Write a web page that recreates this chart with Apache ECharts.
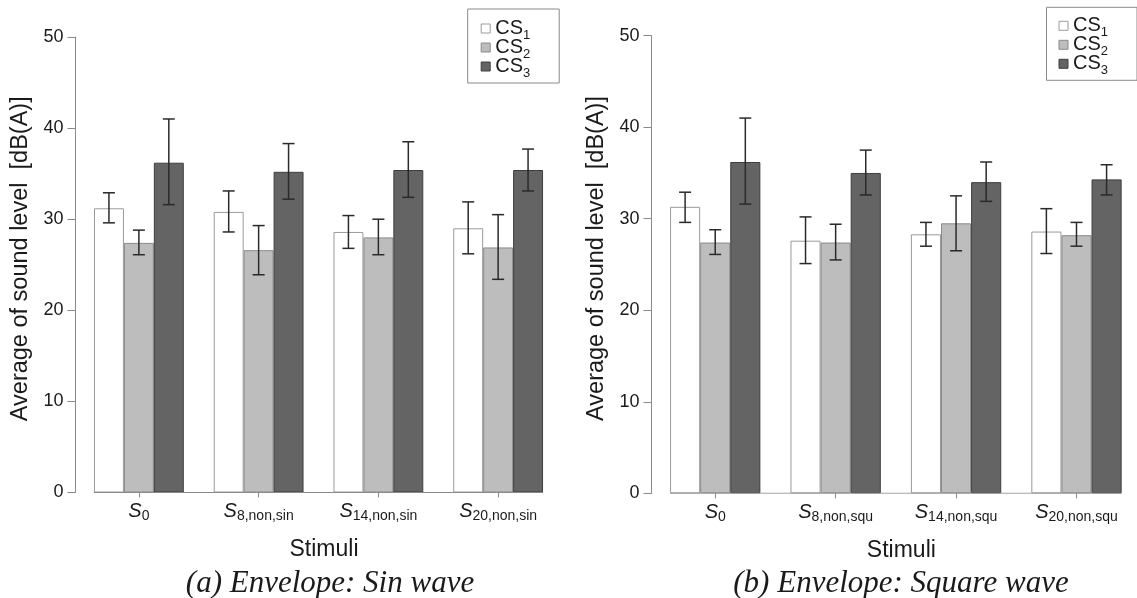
<!DOCTYPE html>
<html>
<head>
<meta charset="utf-8">
<script src="https://cdn.jsdelivr.net/npm/echarts@6/dist/echarts.min.js"></script>
<style>html,body{margin:0;padding:0;background:#fff}#c{width:1137px;height:598px}</style>
</head>
<body>
<div id="c"></div>
<script>
// ---- data ----
const categoriesSin = ['S_0', 'S_8,non,sin', 'S_14,non,sin', 'S_20,non,sin'];
const categoriesSqu = ['S_0', 'S_8,non,squ', 'S_14,non,squ', 'S_20,non,squ'];
const seriesNames = ['CS_1', 'CS_2', 'CS_3'];
const captionSin = '(a) Envelope: Sin wave';
const captionSqu = '(b) Envelope: Square wave';
const yAxisTitle = 'Average of sound level  [dB(A)]';
const xAxisTitle = 'Stimuli';

// Sin wave envelope
const sinCS1 = [31.2, 30.8, 28.6, 29.0];
const sinCS1Low = [29.6, 28.6, 26.8, 26.2];
const sinCS1High = [32.9, 33.1, 30.4, 31.9];
const sinCS2 = [27.4, 26.6, 28.0, 26.9];
const sinCS2Low = [26.1, 23.9, 26.1, 23.4];
const sinCS2High = [28.8, 29.3, 30.0, 30.5];
const sinCS3 = [36.2, 35.2, 35.4, 35.4];
const sinCS3Low = [31.6, 32.2, 32.4, 33.1];
const sinCS3High = [41.0, 38.3, 38.5, 37.7];

// Square wave envelope
const squCS1 = [31.3, 27.6, 28.3, 28.6];
const squCS1Low = [29.6, 25.1, 27.0, 26.2];
const squCS1High = [32.9, 30.2, 29.6, 31.1];
const squCS2 = [27.4, 27.4, 29.5, 28.2];
const squCS2Low = [26.1, 25.5, 26.5, 27.0];
const squCS2High = [28.8, 29.4, 32.5, 29.6];
const squCS3 = [36.2, 35.0, 34.0, 34.3];
const squCS3Low = [31.6, 32.6, 31.9, 32.6];
const squCS3High = [41.0, 37.5, 36.2, 35.9];

// ---- styling ----
const SANS = 'Liberation Sans';
const SERIF = 'Liberation Serif';
const AXIS_GREY = '#8a8a8a';
const TEXT = '#1a1a1a';
const barStyles = [
  {color: '#ffffff', borderColor: '#9a9a9a', borderWidth: 1},
  {color: '#bdbdbd', borderColor: '#8a8a8a', borderWidth: 1},
  {color: '#646464', borderColor: '#3e3e3e', borderWidth: 1}
];
const CAT_GAP = 0.25;                 // barCategoryGap fraction
const BAR_FRAC = (1 - CAT_GAP) / 3;   // each bar's share of the band
const GROUP_HALF = (1 - CAT_GAP) / 2; // half extent of a group

const chart = echarts.init(document.getElementById('c'), null, {renderer: 'canvas'});

function subFormatter(name) {
  const p = name.split('_');
  return '{s|' + p[0] + '}{b|' + p[1] + '}';
}
function legendFormatter(name) {
  const p = name.split('_');
  return '{a|' + p[0] + '}{b|' + p[1] + '}';
}

function errRender(offsetIdx) {
  return function (params, api) {
    const x = api.value(0), lo = api.value(1), hi = api.value(2);
    const band = api.size([1, 0])[0];
    const pLo = api.coord([x, lo]);
    const pHi = api.coord([x, hi]);
    const cx = pLo[0] + offsetIdx * band * BAR_FRAC;
    const cap = 6;
    const st = {stroke: '#2a2a2a', lineWidth: 1.5};
    return {
      type: 'group',
      children: [
        {type: 'line', shape: {x1: cx, y1: pLo[1], x2: cx, y2: pHi[1]}, style: st},
        {type: 'line', shape: {x1: cx - cap, y1: pLo[1], x2: cx + cap, y2: pLo[1]}, style: st},
        {type: 'line', shape: {x1: cx - cap, y1: pHi[1], x2: cx + cap, y2: pHi[1]}, style: st}
      ]
    };
  };
}

const panels = [
  {cats: categoriesSin, vals: [sinCS1, sinCS2, sinCS3], lows: [sinCS1Low, sinCS2Low, sinCS3Low], highs: [sinCS1High, sinCS2High, sinCS3High]},
  {cats: categoriesSqu, vals: [squCS1, squCS2, squCS3], lows: [squCS1Low, squCS2Low, squCS3Low], highs: [squCS1High, squCS2High, squCS3High]}
];

const grids = [
  {left: 79, top: 37, width: 479, height: 455.5},
  {left: 655, top: 35.7, width: 481.7, height: 457.6}
];

const xAxes = [], yAxes = [], series = [];
panels.forEach((p, gi) => {
  xAxes.push({
    type: 'category', gridIndex: gi, data: p.cats,
    axisLine: {show: false},
    axisTick: {show: true, alignWithLabel: true, length: 5, lineStyle: {color: AXIS_GREY}},
    axisLabel: {
      margin: 9, interval: 0, formatter: subFormatter,
      rich: {
        s: {fontFamily: SANS, fontStyle: 'italic', fontSize: 20, color: TEXT, lineHeight: 20},
        b: {fontFamily: SANS, fontSize: 14, color: TEXT, lineHeight: 20, padding: [9, 0, 0, 0]}
      }
    },
    name: xAxisTitle, nameLocation: 'middle', nameGap: 46,
    nameTextStyle: {fontFamily: SANS, fontSize: 23, color: TEXT, padding: [0, 0, 0, 11]}
  });
  yAxes.push({
    type: 'value', gridIndex: gi, min: 0, max: 50, interval: 10, offset: 3.5,
    axisLine: {show: true, onZero: false, lineStyle: {color: AXIS_GREY, width: 1}},
    axisTick: {show: true, length: 8, lineStyle: {color: AXIS_GREY}},
    splitLine: {show: false},
    axisLabel: {fontFamily: SANS, fontSize: 18, color: TEXT, margin: 12},
    name: yAxisTitle, nameLocation: 'middle', nameGap: 43,
    nameTextStyle: {fontFamily: SANS, fontSize: 23.5, color: TEXT, padding: [0, 0, 0, 12]}
  });
});
// hidden value axes for the baseline under the bar groups
panels.forEach((p, gi) => {
  xAxes.push({type: 'value', gridIndex: gi, min: -0.5, max: p.cats.length - 0.5, show: false,
              axisLine: {onZero: false}});
});

panels.forEach((p, gi) => {
  seriesNames.forEach((nm, si) => {
    series.push({
      type: 'bar', name: nm, xAxisIndex: gi, yAxisIndex: gi,
      data: p.vals[si], barGap: '0%', barCategoryGap: (CAT_GAP * 100) + '%',
      itemStyle: barStyles[si], silent: true
    });
  });
  seriesNames.forEach((nm, si) => {
    series.push({
      type: 'custom', name: nm + ' err', xAxisIndex: gi, yAxisIndex: gi,
      renderItem: errRender(si - 1), z: 5, silent: true,
      encode: {x: 0, y: [1, 2]},
      data: p.vals[si].map((v, i) => [i, p.lows[si][i], p.highs[si][i]])
    });
  });
  series.push({
    type: 'line', name: 'baseline', xAxisIndex: gi + 2, yAxisIndex: gi,
    symbol: 'none', silent: true, z: 4,
    lineStyle: {color: AXIS_GREY, width: 1},
    data: [[-GROUP_HALF, 0], [p.cats.length - 1 + GROUP_HALF, 0]]
  });
});

const legendCommon = {
  orient: 'vertical', icon: 'rect', itemWidth: 9, itemHeight: 9, itemGap: -8,
  itemTextGap: 12, selectedMode: false,
  borderColor: '#8a8a8a', borderWidth: 1, backgroundColor: '#fff',
  data: seriesNames, formatter: legendFormatter,
  itemStyle: {borderWidth: 1},
  textStyle: {
    fontSize: 20,
    rich: {
      a: {fontFamily: SANS, fontSize: 20, color: TEXT, lineHeight: 18},
      b: {fontFamily: SANS, fontSize: 13, color: TEXT, lineHeight: 13, padding: [14, 0, 0, 0]}
    }
  }
};

chart.setOption({
  animation: false,
  backgroundColor: '#fff',
  grid: grids,
  xAxis: xAxes,
  yAxis: yAxes,
  legend: [
    Object.assign({}, legendCommon, {left: 467.7, top: 9, padding: [6, 29, 3, 13]}),
    Object.assign({}, legendCommon, {left: 1046.5, top: 7.3, padding: [5, 29, 3, 12]})
  ],
  title: [
    {text: captionSin, left: 325, top: 563, textAlign: 'center',
     textStyle: {fontFamily: SERIF, fontStyle: 'italic', fontWeight: 'normal', fontSize: 31, color: TEXT}},
    {text: captionSqu, left: 896, top: 563, textAlign: 'center',
     textStyle: {fontFamily: SERIF, fontStyle: 'italic', fontWeight: 'normal', fontSize: 31, color: TEXT}}
  ],
  series: series
});
</script>
</body>
</html>
